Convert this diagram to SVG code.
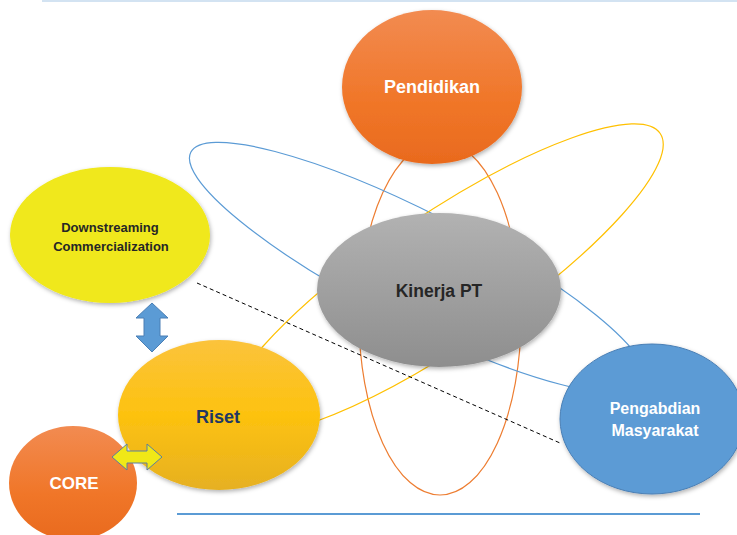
<svg xmlns="http://www.w3.org/2000/svg" width="737" height="535" viewBox="0 0 737 535">
<defs>
<linearGradient id="gOrange" x1="0" y1="0" x2="0" y2="1"><stop offset="0" stop-color="#f28b51"/><stop offset="0.6" stop-color="#f07628"/><stop offset="1" stop-color="#e96a1e"/></linearGradient>
<linearGradient id="gGold" x1="0" y1="0" x2="0" y2="1"><stop offset="0" stop-color="#fbc33c"/><stop offset="0.5" stop-color="#fdc20f"/><stop offset="1" stop-color="#e6b022"/></linearGradient>
<linearGradient id="gGray" x1="0" y1="0" x2="0" y2="1"><stop offset="0" stop-color="#b2b2b2"/><stop offset="1" stop-color="#8e8e8e"/></linearGradient>
<filter id="sh" x="-20%" y="-20%" width="140%" height="140%"><feDropShadow dx="1" dy="2" stdDeviation="2" flood-color="#000" flood-opacity="0.3"/></filter>
</defs>
<style>
.orbit{fill:none;stroke-width:1.2}
.t{font-family:"Liberation Sans",Arial,sans-serif;font-weight:bold;text-anchor:middle}
.w{fill:#ffffff}
.d{fill:#262626}
</style>
<line x1="42" y1="1" x2="737" y2="1" stroke="#d3e3f2" stroke-width="2"/>
<line x1="177" y1="514" x2="700" y2="514" stroke="#5b9bd5" stroke-width="2"/>
<g id="connectors">
<ellipse class="orbit" cx="440" cy="318" rx="81" ry="177" stroke="#ed7d31"/>
<ellipse class="orbit" cx="418" cy="268" rx="255" ry="55" transform="rotate(27 418 268)" stroke="#5b9bd5"/>
<ellipse class="orbit" cx="443" cy="280" rx="262" ry="65" transform="rotate(-34 443 280)" stroke="#ffc000"/>
<line x1="197" y1="283" x2="560" y2="443" stroke="#000" stroke-width="1" stroke-dasharray="4,3"/>
</g>
<g id="pendidikan"><ellipse cx="432" cy="87" rx="90" ry="77" fill="url(#gOrange)" filter="url(#sh)"/><text class="t w" x="432" y="93" font-size="18">Pendidikan</text></g>
<g id="kinerja"><ellipse cx="439" cy="290" rx="122" ry="77" fill="url(#gGray)" filter="url(#sh)"/><text class="t d" x="439" y="297" font-size="17.5">Kinerja PT</text></g>
<g id="downstreaming"><ellipse cx="110" cy="235" rx="100" ry="68" fill="#f0e81a" filter="url(#sh)"/><text class="t d" x="110" y="232" font-size="13">Downstreaming</text><text class="t d" x="111" y="251" font-size="13">Commercialization</text></g>
<g id="pengabdian"><ellipse cx="652" cy="419" rx="92" ry="75" fill="#5b9bd5" stroke="#4a7fb5" stroke-width="1" filter="url(#sh)"/><text class="t w" x="655" y="414" font-size="16">Pengabdian</text><text class="t w" x="655" y="436" font-size="16">Masyarakat</text></g>
<g id="riset"><ellipse cx="219" cy="415" rx="101" ry="75" fill="url(#gGold)" filter="url(#sh)"/><text class="t" x="218" y="423" font-size="18" fill="#1f3864">Riset</text></g>
<g id="core"><ellipse cx="73" cy="483" rx="64" ry="57" fill="url(#gOrange)"/><text class="t w" x="74" y="489" font-size="17">CORE</text></g>
<g id="arrows">
<polygon points="152,303 168,318 160,318 160,336 168,336 152,352 136,336 144,336 144,318 136,318" fill="#5b9bd5" stroke="#4a7fb5" stroke-width="1"/>
<polygon points="112,457 127,444 127,451 147,451 147,444 162,457 147,470 147,463 127,463 127,470" fill="#f0e817" stroke="#5a7fa0" stroke-width="1"/>
</g>
</svg>
